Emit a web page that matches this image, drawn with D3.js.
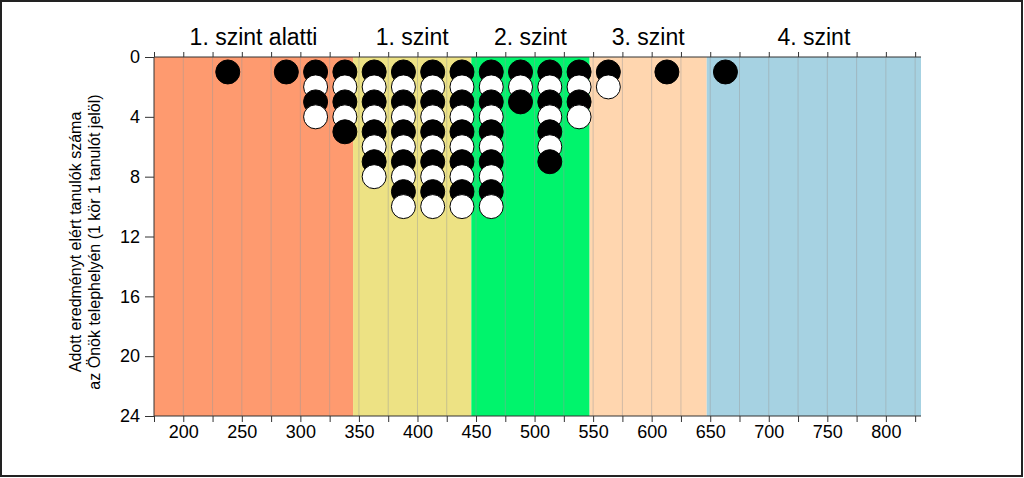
<!DOCTYPE html>
<html><head><meta charset="utf-8">
<script src="https://cdn.jsdelivr.net/npm/d3@7"></script>
<style>html,body{margin:0;padding:0;background:#fff;}svg{display:block;font-family:"Liberation Sans",Arial,sans-serif;}</style>
</head><body>
<svg id="chart" width="1024" height="478"></svg>
<script>
// Data
const bandNames = ["1. szint alatti", "1. szint", "2. szint", "3. szint", "4. szint"];
const bandStarts = [175, 345, 446, 547, 647];
const bandEnds = [345, 446, 547, 647, 830];
const bandColors = ["#FE9A6F", "#EDE284", "#00F46C", "#FFD6AF", "#A6D2E2"];
const scoreCols = [238, 288, 313, 338, 363, 388, 413, 438, 463, 488, 513, 538, 563, 613, 663];
const studentCounts = [1, 1, 4, 5, 8, 10, 10, 10, 10, 3, 7, 4, 2, 1, 1];
const xTicks = [200, 250, 300, 350, 400, 450, 500, 550, 600, 650, 700, 750, 800];
const yTicks = [0, 4, 8, 12, 16, 20, 24];
const yTitle = ["Adott eredményt elért tanulók száma", "az Önök telephelyén (1 kör 1 tanulót jelöl)"];

(function () {
const svg = d3.select("#chart");
const m = {left: 154, right: 921, top: 57, bottom: 416};
const x = d3.scaleLinear().domain([175, 830]).range([m.left, m.right]);
const y = d3.scaleLinear().domain([0, 24]).range([m.top, m.bottom]);

// outer border
svg.append("rect").attr("x", 1).attr("y", 1).attr("width", 1021).attr("height", 475)
  .attr("fill", "none").attr("stroke", "#222").attr("stroke-width", 2);

// bands
svg.append("g").selectAll("rect").data(bandNames).join("rect")
  .attr("x", (d, i) => x(bandStarts[i]))
  .attr("width", (d, i) => x(bandEnds[i]) - x(bandStarts[i]))
  .attr("y", y(0)).attr("height", y(24) - y(0))
  .attr("fill", (d, i) => bandColors[i]);

// grid
const gridVals = d3.range(200, 830, 25);
svg.append("g").selectAll("line").data(gridVals).join("line")
  .attr("x1", d => x(d)).attr("x2", d => x(d))
  .attr("y1", y(0)).attr("y2", y(24))
  .attr("stroke", "#999").attr("stroke-opacity", 0.45).attr("stroke-width", 1);

// band labels
svg.append("g").selectAll("text").data(bandNames).join("text")
  .attr("x", (d, i) => x((bandStarts[i] + bandEnds[i]) / 2))
  .attr("y", 45).attr("text-anchor", "middle")
  .attr("font-size", 23).attr("fill", "#000").text(d => d);

// circles
const pts = [];
scoreCols.forEach((s, i) => {
  for (let k = 1; k <= studentCounts[i]; k++) pts.push({s, k});
});
svg.append("g").selectAll("circle").data(pts).join("circle")
  .attr("cx", d => x(d.s)).attr("cy", d => y(d.k))
  .attr("r", 12)
  .attr("fill", d => d.k % 2 === 1 ? "#000" : "#fff")
  .attr("stroke", "#000").attr("stroke-width", 1);

// axes
const minorTicks = d3.range(175, 831, 25);
const gBottom = svg.append("g").attr("transform", `translate(0,${m.bottom})`)
  .call(d3.axisBottom(x).tickValues(minorTicks).tickSize(6).tickPadding(3)
    .tickFormat(d => xTicks.includes(d) ? d : ""));
gBottom.select(".domain").attr("d", `M${m.left},0H${m.right}`);
const gTop = svg.append("g").attr("transform", `translate(0,${m.top})`)
  .call(d3.axisTop(x).tickValues(minorTicks).tickSize(5).tickFormat(""));
gTop.select(".domain").attr("d", `M${m.left},0H${m.right}`);
const gLeft = svg.append("g").attr("transform", `translate(${m.left},0)`)
  .call(d3.axisLeft(y).tickValues(yTicks).tickSize(9).tickPadding(5));
gLeft.select(".domain").attr("d", `M0,${m.top}V${m.bottom}`);
[gBottom, gTop, gLeft].forEach(g => {
  g.selectAll("path,line").attr("stroke", "#333");
  g.selectAll("text").attr("font-size", 18).attr("fill", "#000")
    .attr("font-family", "'Liberation Sans', Arial, sans-serif");
});

// y title
svg.append("g").selectAll("text").data(yTitle).join("text")
  .attr("transform", (d, i) => `translate(${81 + i * 19},${242}) rotate(-90)`)
  .attr("text-anchor", "middle").attr("font-size", 16).attr("fill", "#000")
  .text(d => d);
})();
</script>
</body></html>
